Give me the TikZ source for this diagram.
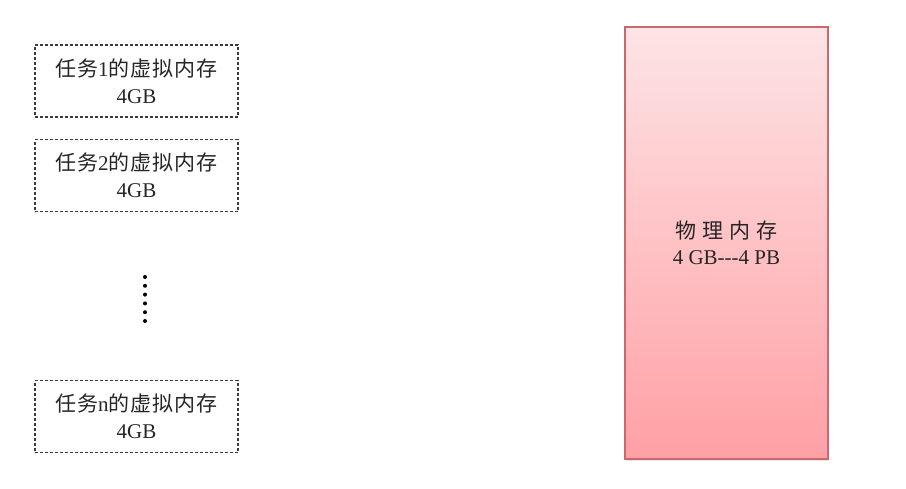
\documentclass[tikz,border=0pt]{standalone}
\usepackage{fontspec}
\setmainfont{Liberation Serif}
\newfontfamily\cjk[LetterSpace=5]{Noto Sans CJK SC}
\newfontfamily\cjkwide[LetterSpace=30]{Noto Sans CJK SC}
\usetikzlibrary{shadows}

\definecolor{txtgray}{HTML}{262626}
\definecolor{dashgray}{HTML}{3A3A3A}
\definecolor{memtop}{HTML}{FDE4E5}
\definecolor{membot}{HTML}{FFA0A5}
\definecolor{memline}{HTML}{C9686D}

\tikzset{
    vmem/.style={draw=dashgray, line width=1.3pt, dash pattern=on 3pt off 2pt,
        minimum width=203pt, minimum height=72pt, inner sep=0pt,
        align=center, text=txtgray, font=\fontsize{21}{27}\selectfont},
    pmem/.style={draw=memline, line width=1.3pt, top color=memtop, bottom color=membot,
        minimum width=203pt, minimum height=432pt, inner sep=0pt,
        align=center, text=txtgray, font=\fontsize{21}{26}\selectfont,
        drop shadow={opacity=0.2, shadow xshift=1pt, shadow yshift=-2pt}},
    vdot/.style={circle, fill=black, inner sep=0pt, minimum size=4pt}
}

\begin{document}
\begin{tikzpicture}[x=1pt, y=-1pt]
    \useasboundingbox (0,0) rectangle (906,488);

    % virtual memory of each task
    \node[vmem] (task1) at (136.5,81) {{\cjk 任务}1{\cjk 的虚拟内存}\\4GB};
    \node[vmem] (task2) at (136.5,175.5) {{\cjk 任务}2{\cjk 的虚拟内存}\\4GB};
    \node[vmem] (taskn) at (136.5,416.5) {{\cjk 任务}n{\cjk 的虚拟内存}\\4GB};

    % the dots between task 2 and task n
    \foreach \i in {0,1,...,5} {
        \node[vdot] (dot\i) at (145,277+8.8*\i) {};
    }

    % physical memory
    \node[pmem] (phys) at (726.5,243) {{\cjkwide 物理内存}\\4 GB-{}-{}-4 PB};

\end{tikzpicture}
\end{document}
